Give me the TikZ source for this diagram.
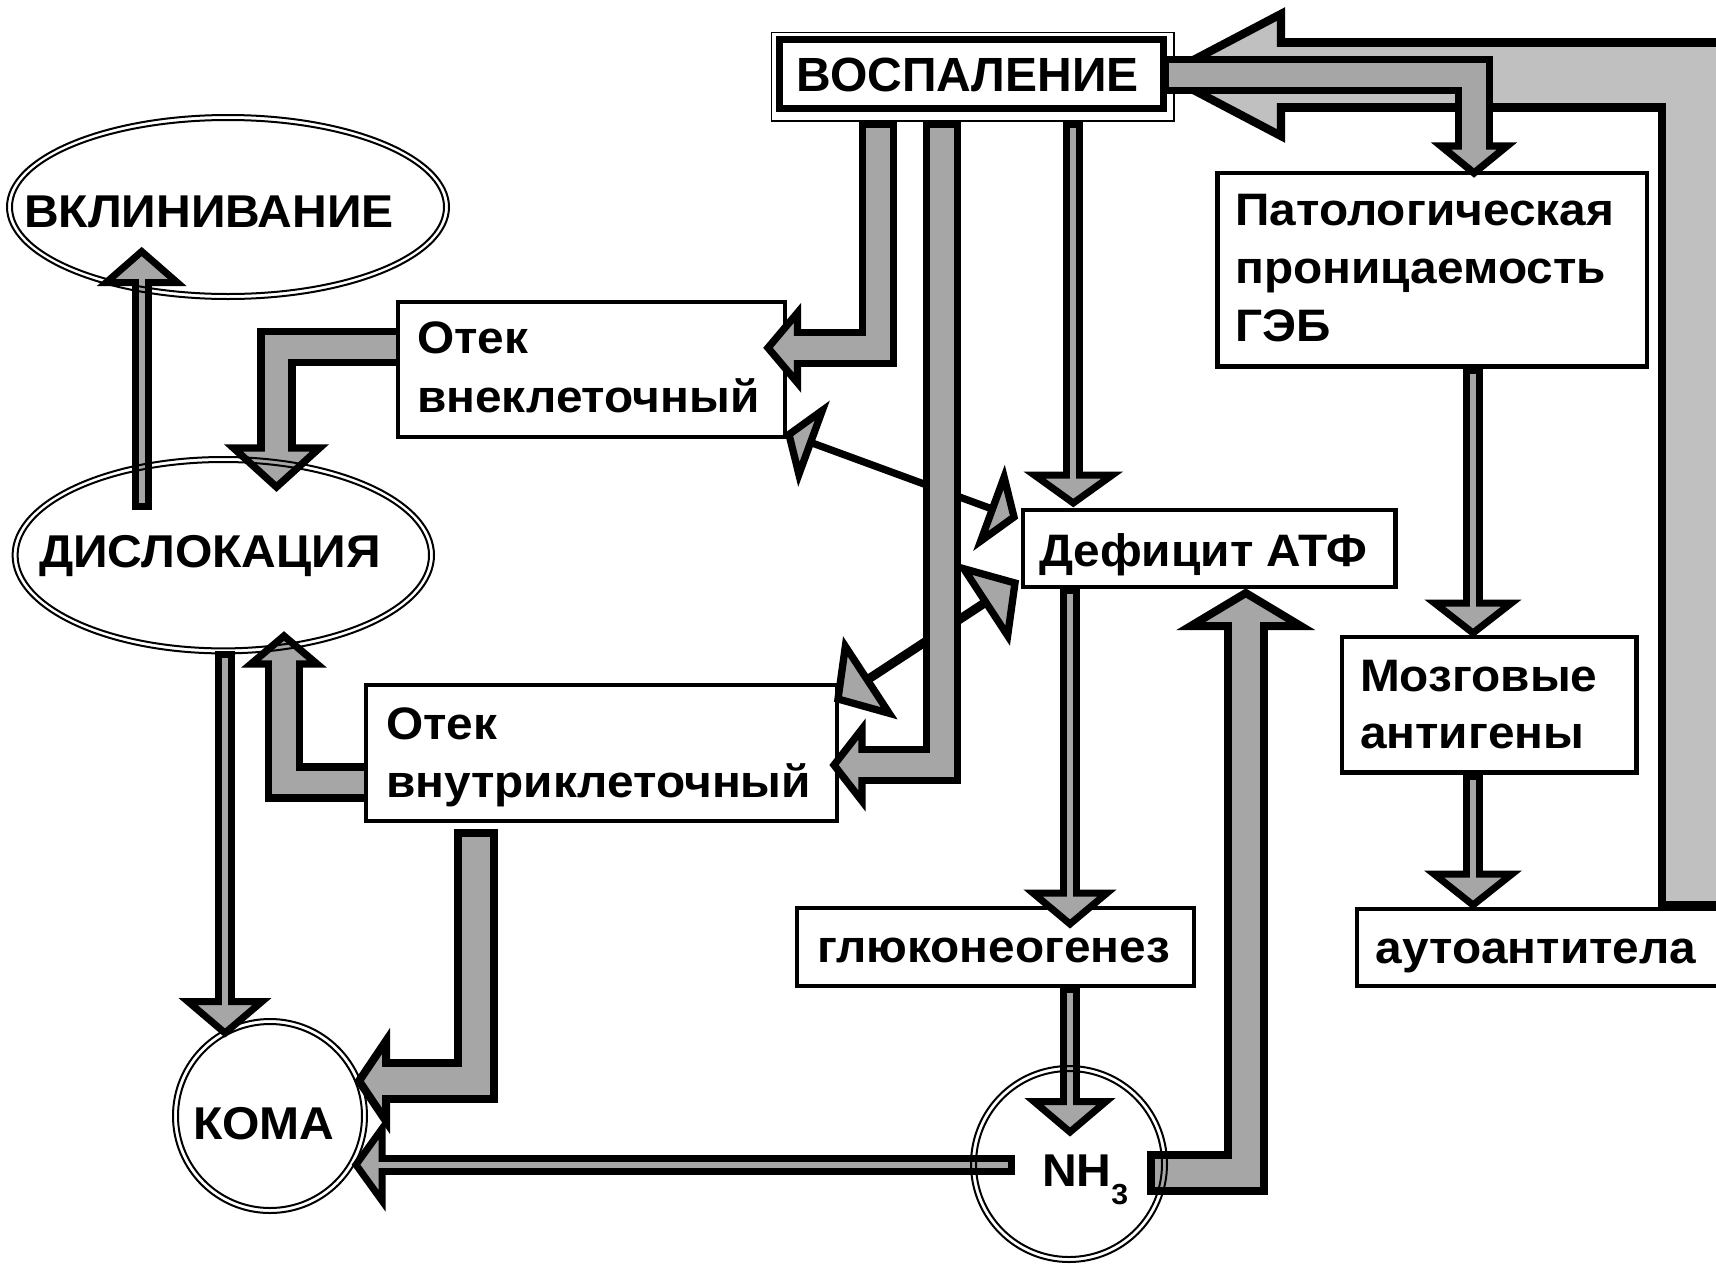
\documentclass[tikz,border=0pt]{standalone}
\usepackage{fontspec}
\setmainfont{Liberation Sans}
\newfontfamily\labelfont[FakeStretch=1.05]{Liberation Sans}
\newfontfamily\capsfont[FakeStretch=1.045]{Liberation Sans}
\usetikzlibrary{calc,shapes.geometric}

\definecolor{arrowgray}{HTML}{A6A6A6}
\definecolor{loopgray}{HTML}{C0C0C0}

% block arrow: kind, path up to last corner, last corner, tip, head length, head half-width
\newcommand\blockarrow[6]{%
  \path ($(#4)!#5!(#3)$) coordinate (ba-m);
  \draw[#1 out] #2 -- (ba-m);
  \filldraw[#1 head] ($(ba-m)!#6!90:(#4)$) -- (#4) -- ($(ba-m)!#6!-90:(#4)$) -- cycle;
  \draw[#1 in] #2 -- ($(ba-m)!5pt!(#4)$);
}
% triangular head on a plain line: tip, other end, length, half-width
\newcommand\linehead[4]{%
  \path ($(#1)!#3!(#2)$) coordinate (lh-m);
  \filldraw[lhead] ($(lh-m)!#4!90:(#1)$) -- (#1) -- ($(lh-m)!#4!-90:(#1)$) -- cycle;
}

\tikzset{
  tarr out/.style={line width=20pt},
  tarr in/.style={line width=6pt, draw=arrowgray, shorten <=7pt},
  tarr head/.style={fill=arrowgray, draw=black, line width=7pt, line join=miter},
  warr out/.style={line width=38.3pt, line join=miter},
  warr in/.style={line width=23.7pt, draw=arrowgray, line join=miter, shorten <=7.3pt},
  warr head/.style={fill=arrowgray, draw=black, line width=7.3pt, line join=miter},
  farr out/.style={warr out},
  farr in/.style={warr in, shorten <=0pt},
  farr head/.style={warr head},
  barr out/.style={line width=44pt, line join=miter},
  barr in/.style={line width=28pt, draw=arrowgray, line join=miter, shorten <=8pt},
  barr head/.style={fill=arrowgray, draw=black, line width=8pt, line join=miter},
  harr out/.style={line width=73.3pt, line join=miter},
  harr in/.style={line width=56.7pt, draw=loopgray, line join=miter, shorten <=8.3pt},
  harr head/.style={fill=loopgray, draw=black, line width=8.3pt, line join=miter},
  lhead/.style={fill=arrowgray, draw=black, line width=7.3pt, line join=miter},
  box/.style={draw, fill=white, line width=4.3pt, rectangle, inner sep=0pt, outer sep=0pt},
  ring/.style={draw, line width=2pt, inner sep=0pt, outer sep=0pt},
  ringin/.style={line width=2pt},
  lbl/.style={inner sep=0pt, outer sep=0pt, anchor=base west,
    font=\labelfont\fontsize{45.5pt}{50pt}\selectfont\bfseries},
  biglbl/.style={lbl, font=\capsfont\fontsize{46pt}{50pt}\selectfont\bfseries},
}

\begin{document}
\begin{tikzpicture}[x=1pt,y=-1pt]
\useasboundingbox (0,0) rectangle (1716,1264);
\clip (0,0) rectangle (1716,1264);
\fill[white] (0,0) rectangle (1716,1264);

% feedback loop: autoantibodies back to inflammation (runs under the box)
\coordinate (e1) at (1694.2,909);
\coordinate (e2) at (1694.2,75);
\coordinate (e3) at (1165,75);
\blockarrow{harr}{(e1) -- (e2)}{e2}{e3}{116pt}{61pt}

% boxes
\node[box, line width=1.8pt, minimum width=402.5pt, minimum height=88.5pt] (vosp) at (972.75,76.75) {};
\node[box, line width=6.7pt, minimum width=384pt, minimum height=68.6pt] (vospin) at (971.3,74) {};
\node[lbl, font=\fontsize{48pt}{50pt}\selectfont\bfseries] (vosp-t) at (796.7,91.7) {ВОСПАЛЕНИЕ};

\node[box, minimum width=387pt, minimum height=135.3pt] (vnekl) at (591.5,369.35) {};
\node[lbl] (vnekl-t1) at (417,353.3) {Отек};
\node[lbl] (vnekl-t2) at (417,412.7) {внеклеточный};

\node[box, minimum width=470.7pt, minimum height=135.8pt] (vnutr) at (601.35,752.9) {};
\node[lbl] (vnutr-t1) at (386,739) {Отек};
\node[lbl] (vnutr-t2) at (386,797) {внутриклеточный};

\node[box, minimum width=372.4pt, minimum height=76.7pt] (defic) at (1209.2,548.35) {};
\node[lbl] (defic-t) at (1039,566) {Дефицит АТФ};

\node[box, minimum width=429.2pt, minimum height=193.6pt] (patol) at (1432.1,269.8) {};
\node[lbl] (patol-t1) at (1235.5,225) {Патологическая};
\node[lbl] (patol-t2) at (1235.5,283) {проницаемость};
\node[lbl] (patol-t3) at (1235.5,341) {ГЭБ};

\node[box, minimum width=294.7pt, minimum height=135.6pt] (mozg) at (1489.05,704.8) {};
\node[lbl] (mozg-t1) at (1360,691.7) {Мозговые};
\node[lbl] (mozg-t2) at (1360,748.6) {антигены};

\node[box, minimum width=397pt, minimum height=78pt] (gluco) at (995.2,947) {};
\node[lbl] (gluco-t) at (817.5,962) {глюконеогенез};

\node[box, minimum width=403pt, minimum height=77pt] (autoab) at (1558.5,947.5) {};
\node[lbl] (autoab-t) at (1375.5,963.3) {аутоантитела};

% ATP deficit <-> both kinds of oedema
\coordinate (q1) at (789,434.5);
\coordinate (q2) at (1014,517);
\draw[line width=7.3pt] ($(q1)!23pt!(q2)$) -- ($(q2)!23pt!(q1)$);
\linehead{q1}{q2}{23pt}{34pt}
\linehead{q2}{q1}{23pt}{34pt}
\coordinate (r1) at (838,699);
\coordinate (r2) at (1015,583);
\draw[line width=9pt] ($(r1)!35pt!(r2)$) -- ($(r2)!35pt!(r1)$);
\linehead{r1}{r2}{35pt}{40pt}
\linehead{r2}{r1}{35pt}{40pt}

% inflammation -> BBB permeability
\coordinate (d1) at (1162,75);
\coordinate (d2) at (1474,75);
\coordinate (d3) at (1474,0 |- patol.north);
\blockarrow{warr}{(d1) -- (d2)}{d2}{d3}{27pt}{33pt}

% inflammation -> extracellular oedema
\coordinate (a1) at (878.3,0 |- vosp.south);
\coordinate (a2) at (878.3,347.8);
\coordinate (a3) at (768,347.8);
\blockarrow{warr}{(a1) -- (a2)}{a2}{a3}{29.5pt}{35pt}

% inflammation -> intracellular oedema
\coordinate (b1) at (941.7,0 |- vosp.south);
\coordinate (b2) at (941.7,765);
\coordinate (b3) at (834,765);
\blockarrow{warr}{(b1) -- (b2)}{b2}{b3}{28pt}{36pt}

% inflammation -> ATP deficit
\coordinate (c1) at (1073.3,0 |- vosp.south);
\coordinate (c2) at (1073.3,503);
\blockarrow{tarr}{(c1)}{c1}{c2}{28pt}{39pt}

% extracellular oedema -> dislocation
\coordinate (f1) at (396,347.2);
\coordinate (f2) at (276.5,347.2);
\coordinate (f3) at (276.5,487);
\blockarrow{farr}{(f1) -- (f2)}{f2}{f3}{39pt}{43pt}

% dislocation -> herniation
\coordinate (g1) at (141.7,510);
\coordinate (g2) at (141.7,251.5);
\blockarrow{tarr}{(g1)}{g1}{g2}{31pt}{35.5pt}

% intracellular oedema -> dislocation
\coordinate (h1) at (364,782.5);
\coordinate (h2) at (284,782.5);
\coordinate (h3) at (284,636);
\blockarrow{farr}{(h1) -- (h2)}{h2}{h3}{28pt}{33pt}

% dislocation -> coma
\coordinate (i1) at (225,651);
\coordinate (i2) at (225,1033);
\blockarrow{tarr}{(i1)}{i1}{i2}{31.5pt}{37pt}

% intracellular oedema -> coma
\coordinate (j1) at (476.3,828.5);
\coordinate (j2) at (476.3,1081);
\coordinate (j3) at (359,1081);
\blockarrow{barr}{(j1) -- (j2)}{j2}{j3}{27pt}{40pt}

% ammonia -> coma
\coordinate (k1) at (1015,1164.7);
\coordinate (k2) at (356,1164.7);
\blockarrow{tarr}{(k1)}{k1}{k2}{26pt}{36pt}

% ammonia -> ATP deficit
\coordinate (l1) at (1146.7,1172.5);
\coordinate (l2) at (1245.8,1172.5);
\coordinate (l3) at (1245.8,593);
\blockarrow{barr}{(l1) -- (l2)}{l2}{l3}{33pt}{55pt}

% ATP deficit -> gluconeogenesis -> ammonia
\coordinate (m1) at (1070,0 |- defic.south);
\coordinate (m2) at (1070,924);
\blockarrow{tarr}{(m1)}{m1}{m2}{31pt}{37pt}
\coordinate (n1) at (1070,0 |- gluco.south);
\coordinate (n2) at (1070,1132);
\blockarrow{tarr}{(n1)}{n1}{n2}{30.5pt}{36pt}

% BBB permeability -> brain antigens -> autoantibodies
\coordinate (o1) at (1473,0 |- patol.south);
\coordinate (o2) at (1473,633);
\blockarrow{tarr}{(o1)}{o1}{o2}{30pt}{38.5pt}
\coordinate (p1) at (1473,0 |- mozg.south);
\coordinate (p2) at (1473,905);
\blockarrow{tarr}{(p1)}{p1}{p2}{31pt}{39pt}

% ellipses and circles, double outlines
\node[ring, ellipse, minimum width=442pt, minimum height=184pt] (vklin) at (228,207) {};
\draw[ringin] (vklin.center) ellipse [x radius=216pt, y radius=87pt];
\node[biglbl] (vklin-t) at (24,227.5) {ВКЛИНИВАНИЕ};

\node[ring, ellipse, minimum width=421.4pt, minimum height=196.4pt] (disl) at (223.3,555.2) {};
\draw[ringin] (disl.center) ellipse [x radius=205.7pt, y radius=93.2pt];
\node[biglbl] (disl-t) at (39,567) {ДИСЛОКАЦИЯ};

\node[ring, circle, minimum size=194pt] (koma) at (270,1116) {};
\draw[ringin] (koma.center) circle [radius=92pt];
\node[biglbl] (koma-t) at (193,1139) {КОМА};

\node[ring, circle, minimum size=196pt] (nh3) at (1069,1164) {};
\draw[ringin] (nh3.center) circle [radius=93pt];
\node[biglbl] (nh3-t) at (1042,1186.7) {NH\raisebox{-18pt}{\fontsize{29pt}{30pt}\selectfont 3}};
\end{tikzpicture}
\end{document}
